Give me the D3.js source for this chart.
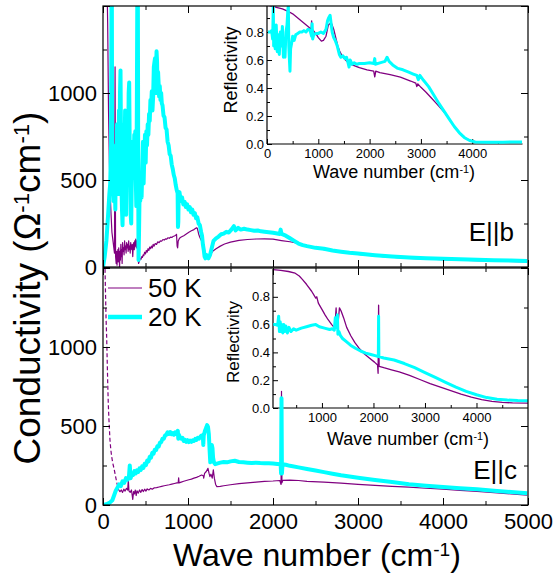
<!DOCTYPE html>
<html><head><meta charset="utf-8">
<script src="https://cdn.jsdelivr.net/npm/d3@7"></script>
<style>
body{margin:0;background:#fff}
svg{display:block}
text{font-family:"Liberation Sans",Arial,sans-serif;fill:#000}
</style>
</head><body>
<svg id="chart" width="553" height="577"></svg>
<script>
// Optical conductivity (cm^-1, Ω^-1cm^-1) and reflectivity, E||b and E||c, 50 K and 20 K.

const sigmaB50 = [[2,4000],[15,3000],[30,2200],[45,1700],[55,1400],[65,900],[75,600],[85,420],[95,300],[105,200],[115,160],[125,120],[135,80],[142,1150],[148,60],[155,20],[160,90],[165,10],[170,60],[175,100],[180,30],[185,110],[190,70],[195,0],[200,90],[205,40],[210,130],[215,60],[220,100],[225,20],[230,140],[236,90],[242,110],[248,70],[254,150],[260,100],[266,120],[272,80],[278,140],[284,110],[290,130],[296,90],[302,150],[308,100],[314,120],[320,80],[326,140],[332,110],[338,100],[344,130],[350,60],[356,120],[362,140],[368,100],[374,150],[380,120],[386,160],[392,110],[398,150],[404,130],[410,100],[418,20],[425,30],[432,40],[440,50],[448,45],[456,60],[464,55],[472,70],[480,65],[490,85],[500,75],[510,95],[520,85],[530,105],[540,95],[550,115],[560,105],[570,120],[580,110],[590,130],[600,120],[615,135],[630,130],[645,145],[660,140],[675,150],[690,148],[705,158],[720,155],[735,162],[750,160],[765,168],[780,165],[795,172],[810,170],[825,176],[840,178],[855,182],[865,188],[872,120],[878,110],[885,150],[900,165],[920,172],[950,180],[980,190],[1010,200],[1040,208],[1070,215],[1100,225],[1110,222],[1125,190],[1140,170],[1160,150],[1180,120],[1200,90],[1220,60],[1240,50],[1260,70],[1290,90],[1330,105],[1380,120],[1430,132],[1500,143],[1600,153],[1700,158],[1800,161],[1900,162],[2000,160],[2100,152],[2200,145],[2300,135],[2400,122],[2600,100],[2800,85],[3000,72],[3300,60],[3600,50],[4000,42],[4500,35],[4990,30]];

const sigmaB20 = [[0,0],[20,60],[40,150],[60,300],[75,420],[85,480],[95,700],[100,1600],[104,1600],[108,500],[115,650],[122,380],[130,600],[138,520],[145,330],[152,700],[158,480],[165,820],[170,560],[176,760],[182,420],[188,900],[194,600],[200,1000],[206,1130],[212,700],[218,450],[224,320],[230,240],[236,500],[242,300],[248,820],[254,640],[260,900],[266,500],[272,300],[278,700],[284,520],[290,800],[296,650],[302,1000],[308,1060],[314,700],[320,520],[326,300],[332,250],[338,480],[344,720],[350,560],[356,700],[362,620],[368,760],[374,700],[380,780],[386,500],[392,350],[398,900],[404,1600],[410,1600],[414,600],[418,40],[424,200],[430,420],[438,380],[446,520],[454,400],[462,560],[470,720],[478,480],[486,640],[494,760],[502,600],[510,780],[518,700],[526,820],[534,760],[542,880],[550,840],[558,960],[566,920],[574,1010],[582,900],[590,980],[598,1150],[606,1180],[612,1200],[618,1000],[624,1140],[630,1240],[636,1180],[642,1000],[648,1120],[654,1060],[660,980],[668,1040],[676,960],[684,1000],[692,940],[700,930],[712,870],[724,860],[736,800],[748,790],[760,720],[772,700],[784,650],[796,640],[808,590],[820,565],[832,530],[844,510],[856,470],[868,440],[878,425],[882,230],[886,260],[890,420],[900,430],[915,380],[930,400],[945,360],[960,375],[975,345],[990,360],[1005,330],[1020,345],[1035,315],[1050,330],[1065,300],[1080,310],[1095,280],[1110,285],[1125,250],[1140,240],[1155,200],[1165,180],[1175,130],[1185,100],[1195,60],[1205,50],[1215,70],[1240,50],[1260,70],[1300,150],[1330,165],[1360,175],[1390,188],[1420,192],[1450,202],[1480,198],[1510,215],[1540,235],[1560,210],[1590,225],[1620,215],[1660,220],[1700,215],[1740,212],[1780,208],[1820,210],[1860,205],[1900,203],[1950,200],[2000,197],[2050,193],[2080,190],[2090,215],[2100,190],[2150,180],[2200,165],[2250,150],[2300,135],[2350,126],[2400,120],[2500,110],[2600,105],[2700,95],[2800,88],[2900,82],[3000,78],[3200,68],[3400,60],[3600,54],[3800,50],[4000,47],[4200,44],[4400,41],[4600,39],[4800,37],[4990,35]];

// Drude-like extrapolation below the measured range (dashed)
const sigmaC50Drude = [[10,1700],[18,1600],[24,1490],[30,1330],[36,1180],[43,1065],[50,900],[56,760],[62,644],[70,540],[82,411],[92,350],[102,306],[115,265],[133,222],[150,175],[165,135],[185,95]];

const sigmaC50 = [[185,95],[200,84],[215,95],[230,80],[245,100],[260,88],[275,105],[290,95],[298,158],[305,90],[320,80],[335,95],[350,35],[360,85],[370,70],[380,95],[390,60],[400,90],[415,75],[430,95],[445,80],[460,98],[475,85],[490,100],[505,88],[520,102],[540,95],[560,105],[580,100],[600,108],[630,110],[660,114],[690,118],[720,122],[750,125],[780,128],[810,132],[840,136],[870,140],[885,140],[890,172],[895,140],[920,145],[950,150],[980,155],[1010,160],[1040,164],[1070,170],[1100,175],[1130,182],[1160,190],[1180,185],[1185,170],[1195,200],[1215,212],[1235,232],[1248,200],[1258,180],[1270,195],[1285,170],[1298,222],[1310,170],[1325,130],[1340,116],[1380,118],[1420,122],[1500,128],[1600,135],[1700,140],[1800,145],[1900,150],[2000,152],[2080,155],[2095,130],[2100,720],[2105,140],[2115,156],[2200,157],[2300,155],[2400,150],[2600,145],[2800,138],[3000,130],[3200,124],[3400,118],[3600,113],[3800,106],[4000,100],[4200,93],[4400,86],[4600,78],[4800,70],[4990,63]];

const sigmaC20 = [[0,0],[40,5],[80,15],[110,30],[130,60],[150,90],[170,110],[190,130],[210,120],[230,150],[250,140],[270,170],[290,160],[305,180],[315,250],[325,170],[340,200],[355,190],[370,215],[385,200],[400,220],[415,210],[430,232],[445,222],[460,245],[475,235],[490,260],[505,252],[520,282],[535,275],[550,305],[565,300],[580,330],[595,325],[610,350],[625,348],[640,372],[655,370],[670,395],[685,398],[700,420],[715,420],[730,440],[745,445],[760,460],[775,450],[790,462],[805,448],[820,455],[835,445],[850,460],[865,450],[880,470],[886,420],[892,445],[905,430],[920,420],[935,425],[950,405],[965,412],[980,400],[995,410],[1010,398],[1025,408],[1040,400],[1055,410],[1070,405],[1085,418],[1100,412],[1115,425],[1130,420],[1145,432],[1160,440],[1175,438],[1180,380],[1185,440],[1200,470],[1215,490],[1225,506],[1235,495],[1245,450],[1255,340],[1262,270],[1270,300],[1280,380],[1288,360],[1295,300],[1305,270],[1320,258],[1340,262],[1380,268],[1420,272],[1460,270],[1500,276],[1550,280],[1600,272],[1650,270],[1700,268],[1750,266],[1800,268],[1850,266],[1900,265],[1950,264],[2000,263],[2050,260],[2090,258],[2095,200],[2100,675],[2105,200],[2112,258],[2150,255],[2200,248],[2300,238],[2400,228],[2500,218],[2600,208],[2700,198],[2800,188],[2900,180],[3000,172],[3200,158],[3400,145],[3600,132],[3800,122],[4000,114],[4200,106],[4400,100],[4600,90],[4800,82],[4990,74]];

const reflB50 = [[20,0.99],[100,0.985],[200,0.975],[300,0.965],[400,0.95],[500,0.93],[600,0.9],[700,0.87],[800,0.84],[860,0.82],[870,0.88],[880,0.82],[950,0.79],[1000,0.76],[1060,0.735],[1100,0.74],[1150,0.77],[1195,0.85],[1230,0.86],[1260,0.86],[1300,0.82],[1340,0.76],[1380,0.70],[1420,0.66],[1480,0.62],[1560,0.59],[1660,0.565],[1800,0.545],[1950,0.53],[2080,0.52],[2100,0.48],[2120,0.52],[2200,0.51],[2400,0.495],[2600,0.478],[2800,0.45],[2900,0.435],[2920,0.41],[2940,0.43],[3000,0.405],[3100,0.37],[3200,0.33],[3300,0.29],[3400,0.25],[3500,0.207],[3600,0.15],[3700,0.10],[3800,0.06],[3900,0.035],[4000,0.02],[4200,0.012],[4500,0.012],[4970,0.015]];

const reflB20 = [[20,0.80],[60,0.80],[90,0.81],[110,0.75],[123,0.99],[130,0.70],[140,0.82],[160,0.68],[180,0.85],[200,0.66],[220,0.78],[240,0.64],[260,0.80],[280,0.70],[300,0.84],[320,0.62],[340,0.75],[351,0.62],[370,0.80],[390,0.85],[405,0.95],[416,0.99],[425,0.70],[440,0.58],[448,0.52],[460,0.68],[480,0.72],[500,0.77],[530,0.74],[560,0.78],[600,0.79],[640,0.80],[680,0.80],[720,0.81],[760,0.80],[800,0.82],[840,0.81],[870,0.77],[880,0.86],[890,0.75],[910,0.78],[950,0.79],[1000,0.79],[1050,0.80],[1100,0.79],[1150,0.82],[1180,0.88],[1200,0.90],[1230,0.92],[1250,0.86],[1270,0.80],[1300,0.76],[1330,0.74],[1370,0.70],[1410,0.64],[1440,0.62],[1480,0.63],[1520,0.61],[1550,0.62],[1580,0.58],[1600,0.55],[1620,0.60],[1660,0.57],[1700,0.58],[1750,0.57],[1800,0.575],[1900,0.575],[2000,0.58],[2080,0.575],[2100,0.61],[2110,0.57],[2200,0.58],[2300,0.59],[2340,0.62],[2380,0.59],[2450,0.565],[2550,0.54],[2650,0.53],[2750,0.515],[2850,0.50],[2920,0.49],[2950,0.46],[2980,0.49],[3050,0.455],[3150,0.41],[3250,0.35],[3350,0.29],[3450,0.235],[3550,0.18],[3650,0.125],[3750,0.08],[3850,0.045],[3950,0.025],[4050,0.015],[4300,0.012],[4600,0.013],[4970,0.015]];

const reflC50 = [[55,0.995],[200,0.99],[350,0.982],[480,0.97],[560,0.95],[620,0.925],[700,0.89],[800,0.84],[880,0.79],[900,0.80],[930,0.755],[1000,0.71],[1060,0.67],[1120,0.635],[1190,0.60],[1250,0.575],[1275,0.72],[1290,0.58],[1310,0.6],[1340,0.72],[1370,0.70],[1420,0.65],[1480,0.58],[1560,0.52],[1640,0.47],[1720,0.43],[1820,0.39],[1920,0.36],[2020,0.33],[2080,0.31],[2090,0.25],[2100,0.74],[2110,0.30],[2200,0.29],[2350,0.275],[2500,0.26],[2700,0.235],[2900,0.205],[3100,0.175],[3300,0.15],[3500,0.125],[3700,0.10],[3900,0.078],[4100,0.06],[4300,0.048],[4500,0.04],[4700,0.037],[5000,0.035]];

const reflC20 = [[55,0.60],[100,0.60],[140,0.595],[160,0.66],[175,0.55],[190,0.62],[205,0.55],[220,0.60],[240,0.54],[260,0.60],[280,0.55],[300,0.59],[330,0.54],[360,0.58],[400,0.55],[450,0.57],[500,0.56],[600,0.575],[700,0.585],[800,0.595],[880,0.60],[950,0.585],[1050,0.575],[1150,0.565],[1200,0.57],[1240,0.56],[1260,0.65],[1275,0.58],[1300,0.67],[1310,0.53],[1330,0.55],[1360,0.52],[1400,0.50],[1480,0.475],[1560,0.45],[1650,0.43],[1750,0.41],[1850,0.395],[1950,0.385],[2050,0.375],[2095,0.37],[2100,0.66],[2105,0.37],[2200,0.36],[2400,0.345],[2600,0.32],[2800,0.29],[3000,0.255],[3200,0.22],[3400,0.185],[3600,0.15],[3800,0.12],[4000,0.095],[4200,0.075],[4400,0.063],[4600,0.057],[4800,0.054],[5000,0.053]];

const mainXTicks = [0,1000,2000,3000,4000,5000];
const mainXMinor = [500,1500,2500,3500,4500];
const mainYTicks = [0,500,1000,1500];
const mainYLabels = [0,500,1000];
const mainYMinor = [250,750,1250];
const insetTopXTicks = [0,1000,2000,3000,4000];
const insetBotXTicks = [1000,2000,3000,4000];
const insetXMinor = [500,1500,2500,3500,4500];
const insetYTicks = [0,0.2,0.4,0.6,0.8];
const insetYMinor = [0.1,0.3,0.5,0.7,0.9];
const legendItems = [{label:"50 K", color:"#800080", width:1.2}, {label:"20 K", color:"#00ffff", width:4.5}];

const PURPLE = "#800080", CYAN = "#00ffff";
const svg = d3.select("#chart");

// scales
const x = d3.scaleLinear().domain([0,5000]).range([103,528]);
const yTop = d3.scaleLinear().domain([0,1500]).range([267,6]);
const yBot = d3.scaleLinear().domain([0,1500]).range([505,268]);
const xInT = d3.scaleLinear().domain([0,4980]).range([267,522.5]);
const yInT = d3.scaleLinear().domain([0,0.986]).range([144,6]);
const xInB = d3.scaleLinear().domain([50,5000]).range([273,528]);
const yInB = d3.scaleLinear().domain([0,1.0]).range([408,269]);

let clipId = 0;
function clipFor(xs, ys) {
  const id = "clip" + (clipId++);
  const [x0,x1] = xs.range(), [y0,y1] = ys.range();
  svg.append("clipPath").attr("id", id).append("rect")
    .attr("x", x0).attr("y", Math.min(y0,y1)).attr("width", x1-x0).attr("height", Math.abs(y1-y0));
  return "url(#" + id + ")";
}

function drawLine(data, xs, ys, color, width, clip, dash) {
  const line = d3.line().x(d => xs(d[0])).y(d => ys(d[1]));
  svg.append("path").datum(data).attr("d", line)
    .attr("fill","none").attr("stroke", color).attr("stroke-width", width)
    .attr("stroke-linejoin","round").attr("clip-path", clip)
    .attr("stroke-dasharray", dash || null);
}

function styleAxis(g, fs) {
  g.select(".domain").remove();
  g.selectAll("line").attr("stroke","#000").attr("stroke-width",1);
  g.selectAll("text").attr("font-size", fs).attr("font-family","Liberation Sans, Arial, sans-serif").attr("fill","#000");
}

// ticks pointing inward; labels optional
function ticks(gen, scale, pos, majors, minors, majLen, minLen, fmt, pad, fs) {
  const gm = svg.append("g").attr("transform", pos)
    .call(gen(scale).tickValues(minors).tickSize(-minLen).tickFormat(""));
  styleAxis(gm, fs);
  const gM = svg.append("g").attr("transform", pos)
    .call(gen(scale).tickValues(majors).tickSize(-majLen).tickPadding(pad).tickFormat(fmt || (() => "")));
  styleAxis(gM, fs);
  return gM;
}

function frame(xs, ys) {
  const [x0,x1] = xs.range(), [y0,y1] = ys.range();
  svg.append("rect").attr("x",x0).attr("y",Math.min(y0,y1)).attr("width",x1-x0).attr("height",Math.abs(y1-y0))
    .attr("fill","none").attr("stroke","#000").attr("stroke-width",1.2);
}

const fmtInt = d3.format("d");
const fmtY = d => mainYLabels.includes(d) ? fmtInt(d) : "";
const fmtR = d3.format(".1f");

// ---- main panels ----
function mainPanel(ys, showXLabels) {
  const [yb, yt] = ys.range();
  ticks(d3.axisBottom, x, `translate(0,${yb})`, mainXTicks, mainXMinor, 7, 4, showXLabels ? fmtInt : null, 8, 22);
  ticks(d3.axisTop, x, `translate(0,${yt})`, mainXTicks, mainXMinor, 7, 4, null, 0, 22);
  ticks(d3.axisLeft, ys, `translate(103,0)`, mainYTicks, mainYMinor, 7, 4, fmtY, 6, 22);
  ticks(d3.axisRight, ys, `translate(528,0)`, mainYTicks, mainYMinor, 7, 4, null, 0, 22);
}

// ---- insets ----
function inset(xs, ys, xTicks, xMinor) {
  ticks(d3.axisBottom, xs, `translate(0,${ys.range()[0]})`, xTicks, xMinor.filter(v => v > xs.domain()[0] && v < xs.domain()[1]), 5, 3, fmtInt, 5, 13);
  ticks(d3.axisLeft, ys, `translate(${xs.range()[0]},0)`, insetYTicks, insetYMinor.filter(v => v < ys.domain()[1]), 5, 3, fmtR, 3, 13);
  const [x0] = xs.range(), [yb, yt] = ys.range();
  svg.append("line").attr("x1",x0).attr("x2",x0).attr("y1",yt).attr("y2",yb).attr("stroke","#000").attr("stroke-width",1.2);
  svg.append("line").attr("x1",x0).attr("x2",xs.range()[1]).attr("y1",yb).attr("y2",yb).attr("stroke","#000").attr("stroke-width",1.2);
}

function sup(textSel, parts) {
  parts.forEach(p => {
    if (p.sup) textSel.append("tspan").attr("dy","-0.5em").attr("font-size","0.6em").text(p.t);
    else textSel.append("tspan").attr("dy", p.back ? "0.3em" : null).text(p.t);
  });
}
const unitParts = [{t:"Wave number (cm"},{t:"-1",sup:true},{t:")",back:true}];

// insets first (transparent), then main data over them
inset(xInT, yInT, insetTopXTicks, insetXMinor);
inset(xInB, yInB, insetBotXTicks, insetXMinor);

const cIT = clipFor(xInT, yInT), cIB = clipFor(xInB, yInB);
drawLine(reflB50, xInT, yInT, PURPLE, 1.3, cIT);
drawLine(reflB20, xInT, yInT, CYAN, 3, cIT);
drawLine(reflC50, xInB, yInB, PURPLE, 1.3, cIB);
drawLine(reflC20, xInB, yInB, CYAN, 3, cIB);

// inset labels
svg.append("text").attr("transform","translate(237,70) rotate(-90)").attr("text-anchor","middle").attr("font-size",18).text("Reflectivity");
svg.append("text").attr("transform","translate(239,342) rotate(-90)").attr("text-anchor","middle").attr("font-size",17).text("Reflectivity");
sup(svg.append("text").attr("x",394).attr("y",178).attr("text-anchor","middle").attr("font-size",18), unitParts);
sup(svg.append("text").attr("x",408).attr("y",445).attr("text-anchor","middle").attr("font-size",18), unitParts);

// main data
const cT = clipFor(x, yTop), cB = clipFor(x, yBot);
drawLine(sigmaB50, x, yTop, PURPLE, 1.2, cT);
drawLine(sigmaB20, x, yTop, CYAN, 4, cT);
drawLine(sigmaC50Drude, x, yBot, PURPLE, 1.2, cB, "4,2.5");
drawLine(sigmaC50, x, yBot, PURPLE, 1.2, cB);
drawLine(sigmaC20, x, yBot, CYAN, 4, cB);

mainPanel(yTop, false);
mainPanel(yBot, true);
frame(x, yTop);
frame(x, yBot);

// polarisation labels
svg.append("text").attr("x",514).attr("y",241).attr("text-anchor","end").attr("font-size",26).text("E||b");
svg.append("text").attr("x",517).attr("y",479).attr("text-anchor","end").attr("font-size",26).text("E||c");

// legend
const leg = svg.append("g");
legendItems.forEach((d,i) => {
  const yy = 288 + i*29;
  leg.append("line").attr("x1",108).attr("x2",142).attr("y1",yy).attr("y2",yy).attr("stroke",d.color).attr("stroke-width",d.width);
  leg.append("text").attr("x",148).attr("y",yy+9).attr("font-size",26).text(d.label);
});

// axis titles
sup(svg.append("text").attr("x",317).attr("y",566).attr("text-anchor","middle").attr("font-size",32), unitParts);
const yt = svg.append("text").attr("transform","translate(40,288) rotate(-90)").attr("text-anchor","middle").attr("font-size",37);
sup(yt, [{t:"Conductivity (Ω"},{t:"-1",sup:true},{t:"cm",back:true},{t:"-1",sup:true},{t:")",back:true}]);
</script>
</body></html>
